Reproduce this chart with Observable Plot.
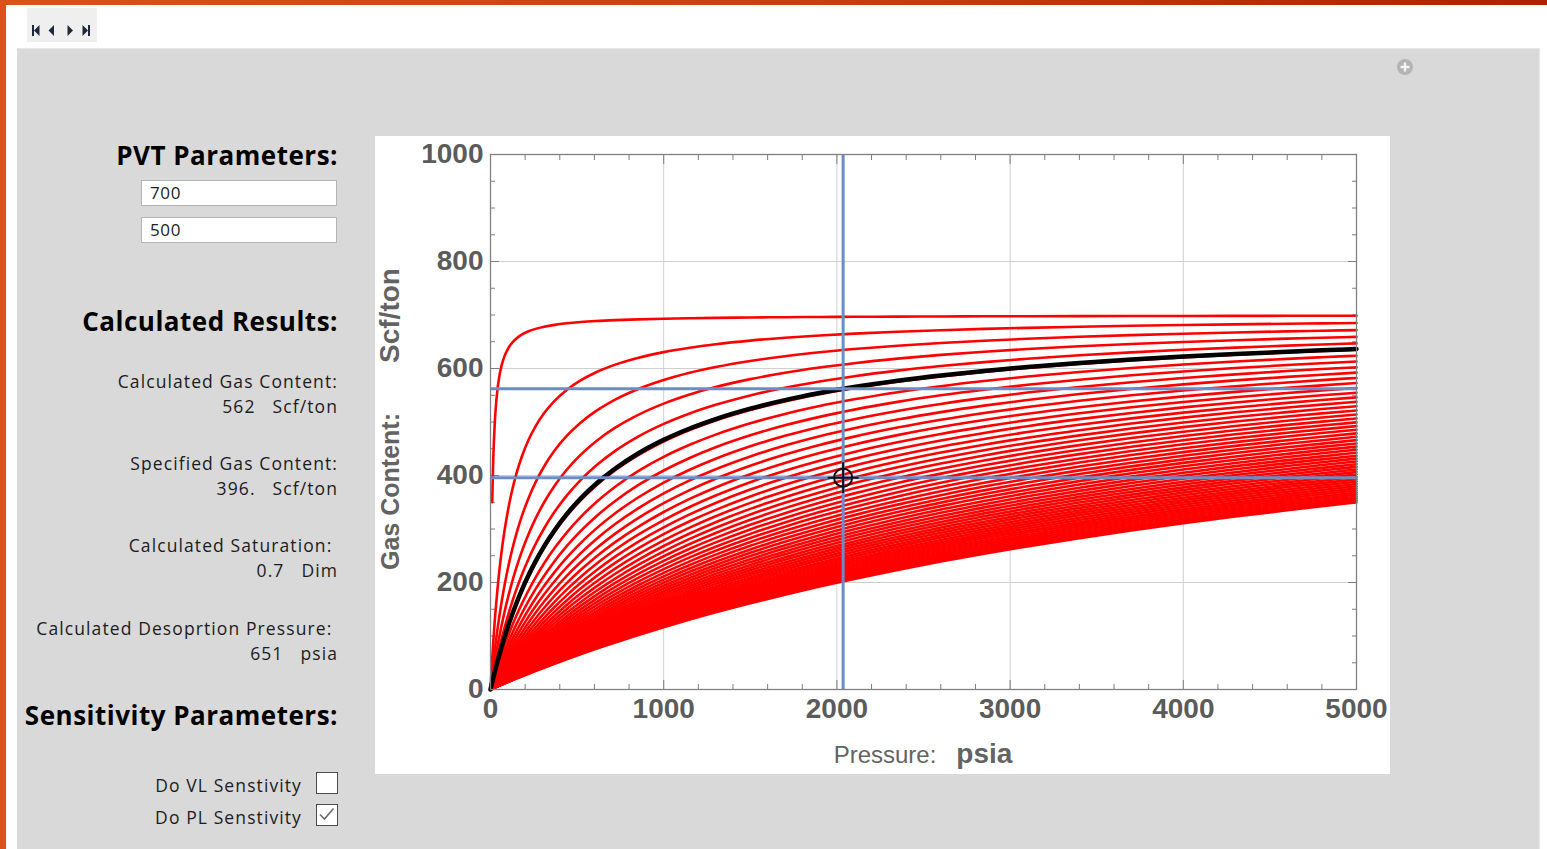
<!DOCTYPE html>
<html>
<head>
<meta charset="utf-8">
<script src="https://cdn.jsdelivr.net/npm/d3@7"></script>
<script src="https://cdn.jsdelivr.net/npm/@observablehq/plot@0.6"></script>
<style>
  html, body { margin: 0; padding: 0; }
  body { width: 1547px; height: 849px; position: relative; overflow: hidden; background: #ffffff; font-family: "Open Sans", "Noto Sans", sans-serif; }
  .abs { position: absolute; }
  #barLeft { left: 0; top: 0; width: 6px; height: 849px; background: #dc5219; }
  #barTop { left: 0; top: 0; width: 1547px; height: 5px; background: linear-gradient(to right, #dc5219, #c63a0e 60%, #b02000); }
  #nav { left: 27px; top: 8px; width: 70px; height: 34px; background: #efefef; }
  #panel { left: 17px; top: 48px; width: 1523px; height: 801px; background: #d9d9d9; border-top: 1px solid #e6e6e6; border-right: 1px solid #e6e6e6; box-sizing: border-box; }
  #plotBox { left: 375px; top: 136px; width: 1015px; height: 638px; background: #ffffff; }
  .side { left: 0; width: 338px; text-align: right; white-space: pre; color: #1c1c1c; }
  .head { font-weight: 700; font-size: 26px; letter-spacing: 0.5px; line-height: 30px; color: #000; }
  .small { font-size: 17.5px; letter-spacing: 1.1px; line-height: 22px; }
  .inbox { left: 141px; width: 196px; height: 26px; background: #fff; border: 1px solid #b5b5b5; box-sizing: border-box; font-size: 17px; letter-spacing: 0.6px; line-height: 24px; padding-left: 8px; color: #222; }
  .cb { width: 22px; height: 22px; background: #fff; border: 1.5px solid #4a4a4a; box-sizing: border-box; left: 316px; }
  .axTitle { font-family: "Liberation Sans", Arial, sans-serif; color: #636363; white-space: pre; }
</style>
</head>
<body>
<div id="barLeft" class="abs"></div>
<div id="barTop" class="abs"></div>
<div id="nav" class="abs">
  <svg width="70" height="34" viewBox="0 0 70 34">
    <g fill="#1d2a3a">
      <rect x="5" y="17" width="2" height="11"/><path d="M7 22.5 L12.5 17 L12.5 28 Z"/>
      <path d="M21.5 22.5 L27 17 L27 28 Z"/>
      <path d="M40.5 17 L46 22.5 L40.5 28 Z"/>
      <path d="M55.5 17 L61 22.5 L55.5 28 Z"/><rect x="61" y="17" width="2" height="11"/>
    </g>
  </svg>
</div>
<div id="panel" class="abs"></div>
<svg class="abs" style="left:1396px;top:58px" width="18" height="18" viewBox="0 0 18 18">
  <circle cx="9" cy="9" r="8" fill="#b4b4b4"/>
  <rect x="4.5" y="7.8" width="9" height="2.4" fill="#f4f4f4"/>
  <rect x="7.8" y="4.5" width="2.4" height="9" fill="#f4f4f4"/>
</svg>

<div class="abs side head" style="top:140px">PVT Parameters:</div>
<div class="abs inbox" style="top:180px">700</div>
<div class="abs inbox" style="top:217px">500</div>
<div class="abs side head" style="top:306px">Calculated Results:</div>
<div class="abs side small" style="top:370px">Calculated Gas Content:</div>
<div class="abs side small" style="top:395px">562   Scf/ton</div>
<div class="abs side small" style="top:452px">Specified Gas Content:</div>
<div class="abs side small" style="top:477px">396.   Scf/ton</div>
<div class="abs side small" style="top:534px">Calculated Saturation: </div>
<div class="abs side small" style="top:559px">0.7   Dim</div>
<div class="abs side small" style="top:617px">Calculated Desoprtion Pressure: </div>
<div class="abs side small" style="top:642px">651   psia</div>
<div class="abs side head" style="top:700px">Sensitivity Parameters:</div>
<div class="abs small" style="top:774px;left:0;width:302px;text-align:right;color:#1c1c1c">Do VL Senstivity</div>
<div class="abs small" style="top:806px;left:0;width:302px;text-align:right;color:#1c1c1c">Do PL Senstivity</div>
<div class="abs cb" style="top:772px"></div>
<div class="abs cb" style="top:804px">
  <svg width="19" height="19" viewBox="0 0 19 19" style="position:absolute;left:0;top:0"><path d="M3 9.5 L7.5 14 L16.5 3.5" fill="none" stroke="#6a6a6a" stroke-width="1.6"/></svg>
</div>

<div id="plotBox" class="abs"></div>

<script>
// ---- chart data ----
const langmuirVolume = 700;          // VL, Scf/ton (PVT parameter)
const langmuirPressure = 500;        // PL, psia (PVT parameter, black curve)
const sensitivityPL = [10, 110, 210, 310, 410, 510, 610, 710, 810, 910,
  1010, 1110, 1210, 1310, 1410, 1510, 1610, 1710, 1810, 1910,
  2010, 2110, 2210, 2310, 2410, 2510, 2610, 2710, 2810, 2910,
  3010, 3110, 3210, 3310, 3410, 3510, 3610, 3710, 3810, 3910,
  4010, 4110, 4210, 4310, 4410, 4510, 4610, 4710, 4810, 4910, 5010];
const pressureSamples = [0, 1, 2, 4, 7, 10, 14, 17, 20, 25, 30, 40, 50, 65, 80, 100, 125, 150, 180, 220,
  260, 310, 370, 440, 520, 610, 720, 850, 1000, 1150, 1300, 1500, 1700, 1900, 2100, 2350,
  2600, 2850, 3100, 3400, 3700, 4000, 4300, 4600, 4800, 5000];
const topCurveFirstPressure = 10;    // first visible sample of the steepest red curve
const calculatedGasContent = 562;    // Scf/ton
const specifiedGasContent = 396;     // Scf/ton
const currentPressure = 2036;        // psia
const xTicks = [0, 1000, 2000, 3000, 4000, 5000];
const xMinorTicks = [200, 400, 600, 800, 1200, 1400, 1600, 1800, 2200, 2400, 2600, 2800,
  3200, 3400, 3600, 3800, 4200, 4400, 4600, 4800];
const yTicks = [0, 200, 400, 600, 800, 1000];
const yMinorTicks = [50, 100, 150, 250, 300, 350, 450, 500, 550, 650, 700, 750, 850, 900, 950];

// Langmuir isotherm V = VL * P / (PL + P)
const isotherm = (pl, p) => langmuirVolume * p / (pl + p);

const redCurves = sensitivityPL.flatMap((pl, i) =>
  pressureSamples
    .filter(p => i > 0 || p >= topCurveFirstPressure)
    .map(p => ({curve: i, p, v: isotherm(pl, p)})));
const blackCurve = pressureSamples.map(p => ({p, v: isotherm(langmuirPressure, p)}));
const marker = [{p: currentPressure, v: specifiedGasContent}];

const plain = d => String(d);
const tickText = {fontSize: 28, fontWeight: "bold", fill: "#5b5b5b", fontFamily: "Liberation Sans, Arial, sans-serif", tickFormat: plain};
const tickLine = {stroke: "#7d7d7d", tickFormat: () => "", label: null};

const chart = Plot.plot({
  width: 1015,
  height: 638,
  marginLeft: 115,
  marginRight: 34,
  marginTop: 18,
  marginBottom: 85,
  style: {background: "transparent", overflow: "visible"},
  x: {domain: [0, 5000]},
  y: {domain: [0, 1000]},
  marks: [
    Plot.gridX(xTicks.slice(1, -1), {stroke: "#cfcfcf", strokeOpacity: 1}),
    Plot.gridY(yTicks.slice(1, -1), {stroke: "#cfcfcf", strokeOpacity: 1}),
    Plot.axisX(xMinorTicks, {anchor: "bottom", tickSize: -5, ...tickLine}),
    Plot.axisX(xMinorTicks, {anchor: "top", tickSize: -5, ...tickLine}),
    Plot.axisX(xTicks, {anchor: "bottom", tickSize: -9, ...tickLine}),
    Plot.axisX(xTicks, {anchor: "top", tickSize: -9, ...tickLine}),
    Plot.axisY(yMinorTicks, {anchor: "left", tickSize: -5, ...tickLine}),
    Plot.axisY(yMinorTicks, {anchor: "right", tickSize: -5, ...tickLine}),
    Plot.axisY(yTicks, {anchor: "left", tickSize: -9, ...tickLine}),
    Plot.axisY(yTicks, {anchor: "right", tickSize: -9, ...tickLine}),
    Plot.axisX(xTicks, {anchor: "bottom", tickSize: 0, tickPadding: 9, label: null, ...tickText}),
    Plot.axisY(yTicks, {anchor: "left", tickSize: 0, tickPadding: 7, label: null, ...tickText}),
    Plot.line(redCurves, {x: "p", y: "v", z: "curve", stroke: "#ff0000", strokeWidth: 2.6, curve: "monotone-x"}),
    Plot.line(blackCurve, {x: "p", y: "v", stroke: "#000000", strokeWidth: 4.5, curve: "monotone-x"}),
    Plot.ruleY([calculatedGasContent, specifiedGasContent], {stroke: "#6b8cc6", strokeWidth: 3}),
    Plot.ruleX([currentPressure], {y1: 0, y2: 1000, stroke: "#6b8cc6", strokeWidth: 3}),
    Plot.dot(marker, {x: "p", y: "v", r: 9, stroke: "#111", strokeWidth: 2, fill: "none"}),
    Plot.dot(marker, {x: "p", y: "v", r: 10, symbol: "plus", stroke: "#111", strokeWidth: 2, fill: "none"}),
    Plot.frame({stroke: "#808080", strokeWidth: 1.3})
  ]
});

const box = document.getElementById("plotBox");
box.appendChild(chart);

const xt = document.createElement("div");
xt.className = "abs axTitle";
xt.style.cssText = "left:0;width:1096px;text-align:center;top:600px;line-height:36px;";
xt.innerHTML = '<span style="font-size:24px">Pressure:</span><span style="font-size:24px">   </span><span style="font-size:28px;font-weight:bold">psia</span>';
box.appendChild(xt);

const yt = document.createElement("div");
yt.className = "abs axTitle";
yt.style.cssText = "left:17px;top:283px;width:0;height:0;";
yt.innerHTML = '<div style="position:absolute;left:0;top:0;transform:translate(-50%,-50%) rotate(-90deg);line-height:34px;white-space:pre"><span style="font-size:25px;font-weight:bold">Gas Content:</span><span style="display:inline-block;width:50px"></span><span style="font-size:28px;font-weight:bold">Scf/ton</span></div>';
box.appendChild(yt);
</script>
</body>
</html>
